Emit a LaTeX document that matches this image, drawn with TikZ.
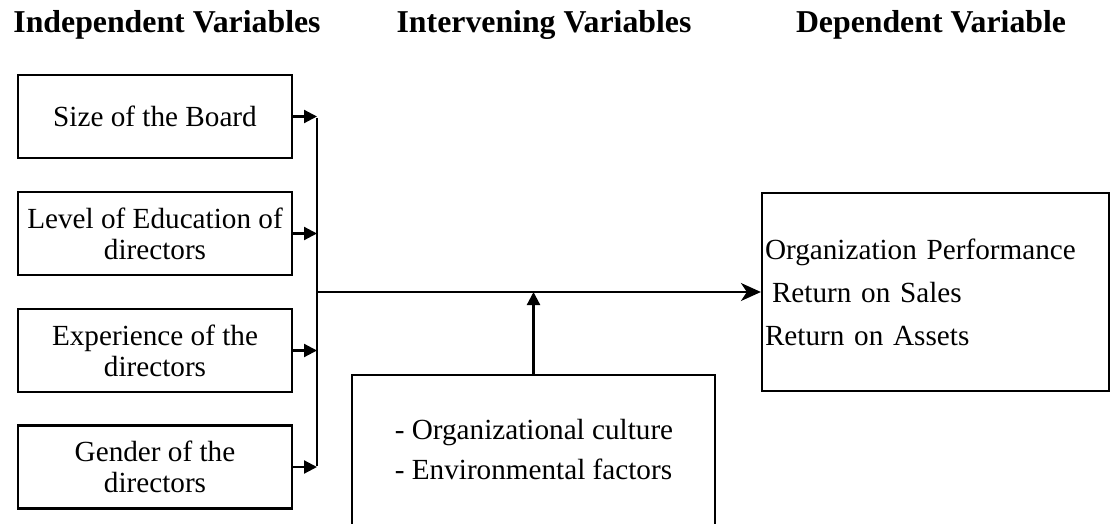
\documentclass[tikz,border=0pt]{standalone}
\usepackage{fontspec}
\setmainfont{Liberation Serif}
\usetikzlibrary{arrows.meta}
\tikzset{
  box/.style={draw, line width=2.2pt, minimum width=274pt, minimum height=83pt, align=center, inner sep=2pt, font=\fontsize{29.2}{31}\selectfont},
  head/.style={anchor=base, font=\fontsize{31.8}{34}\selectfont\bfseries, inner sep=0pt},
  conn/.style={line width=2.2pt},
  arr/.style={line width=2.2pt, -{Triangle[length=13pt,width=13pt]}},
  mainarr/.style={line width=2.2pt, -{Stealth[length=20pt,width=18pt,inset=6pt]}}
}
\begin{document}
\begin{tikzpicture}[x=1pt,y=-1pt]
\useasboundingbox (0,0) rectangle (1113,524);
\node[head] (h1) at (167,33) {Independent Variables};
\node[head] (h2) at (544,33) {Intervening Variables};
\node[head] (h3) at (931,33) {Dependent Variable};

\node[box] (b1) at (155,116.5) {Size of the Board};
\node[box] (b2) at (155,233.5) {Level of Education of\\directors};
\node[box] (b3) at (155,350.5) {Experience of the\\directors};
\node[box] (b4) at (155,467) {Gender of the\\directors};

\begin{scope}
\clip (0,0) rectangle (1113,524);
\node[draw, line width=2.2pt, minimum width=363pt, minimum height=165pt, inner sep=0pt] (int) at (533.5,457.5) {};
\end{scope}
\node[align=left, inner sep=0pt, font=\fontsize{29.2}{40}\selectfont] (inttext) at (534,450) {- Organizational culture\\- Environmental factors};

\node[draw, line width=2.2pt, minimum width=347pt, minimum height=198pt, text width=341pt, inner xsep=3pt, inner ysep=0pt, align=left, font=\fontsize{29.2}{43}\selectfont] (dep) at (935.5,292) {Organization Performance\\\hspace*{7pt}Return on Sales\\Return on Assets};

\coordinate (bus) at (317,0);
\coordinate (j) at (317,292);
\draw[arr] (b1.east) -- (b1.east -| bus);
\draw[arr] (b2.east) -- (b2.east -| bus);
\draw[arr] (b3.east) -- (b3.east -| bus);
\draw[arr] (b4.east) -- (b4.east -| bus);
\draw[conn] ([yshift=-1.1pt]b1.east -| bus) -- ([yshift=1.1pt]b4.east -| bus);
\draw[mainarr] (j) -- (dep.west);
\draw[arr] (int.north) -- (int.north |- j);
\end{tikzpicture}
\end{document}
